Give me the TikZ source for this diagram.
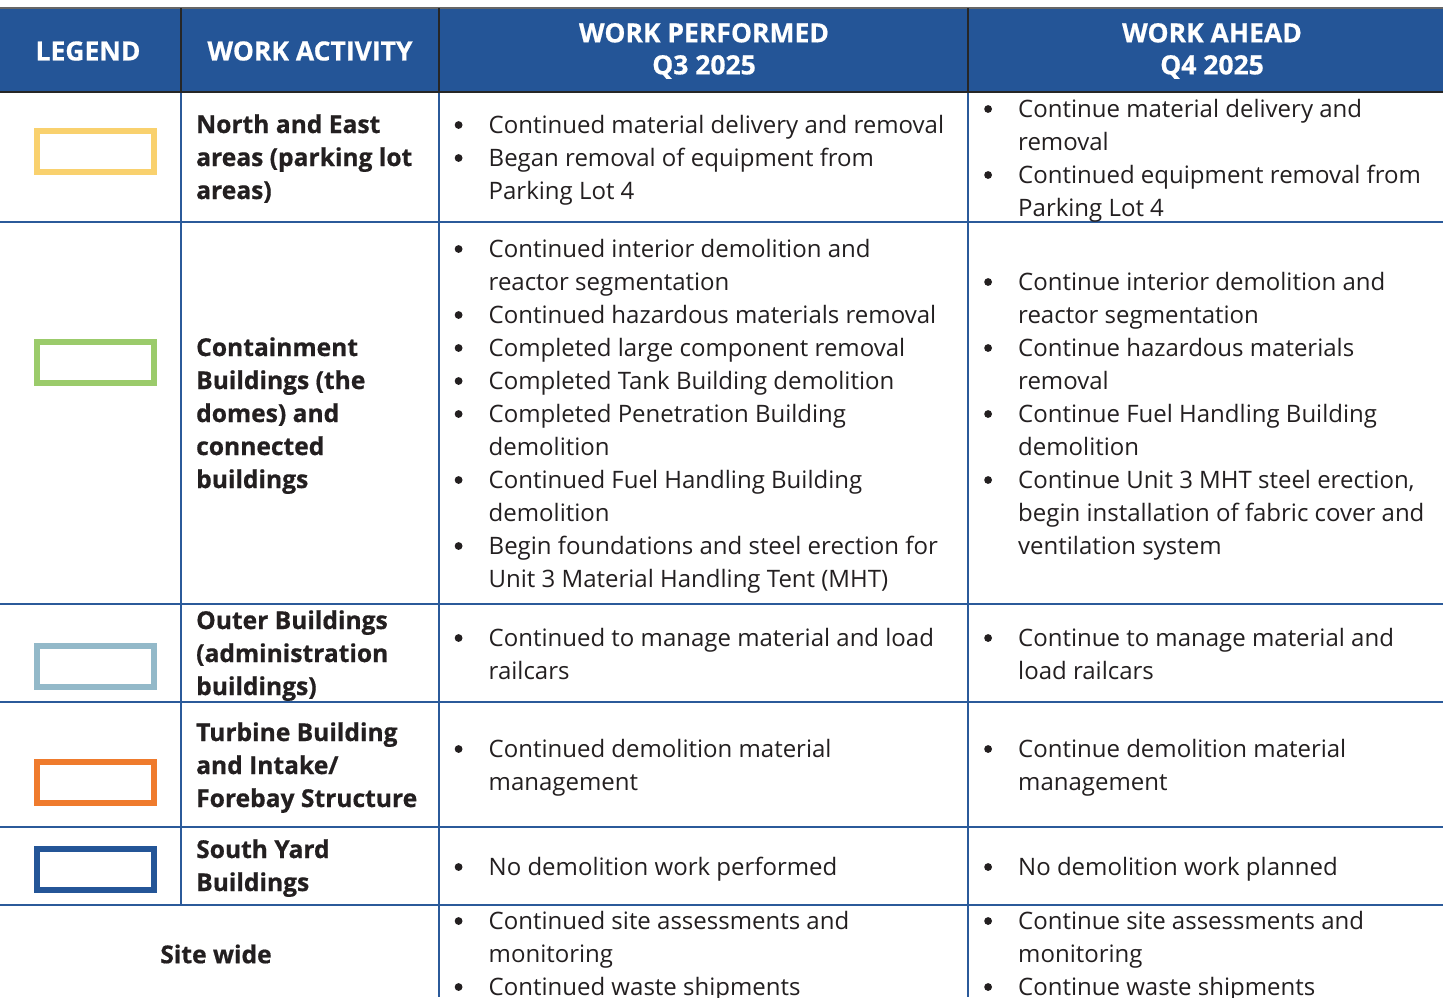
\documentclass[tikz,border=0pt]{standalone}
\usepackage{fontspec}
\setmainfont{Open Sans}[BoldFeatures={FakeBold=0.6}]
\definecolor{hdrblue}{HTML}{245597}
\definecolor{lineblue}{HTML}{2B5A9A}
\definecolor{txt}{HTML}{231F20}
\definecolor{cyellow}{HTML}{F9D16E}
\definecolor{cgreen}{HTML}{9BCB6B}
\definecolor{clblue}{HTML}{93B9C9}
\definecolor{corange}{HTML}{EF7B2D}
\definecolor{cblue}{HTML}{245597}
\newenvironment{blist}{\begin{tabular}[t]{@{}p{34pt}@{}l@{}}}{\end{tabular}}
\newenvironment{alist}{\begin{tabular}[t]{@{}l@{}}}{\end{tabular}}
\newcommand{\bu}{\tikz[baseline=0pt]\fill[txt] (4.5pt,8pt) circle (3.9pt);}
\tikzset{
  hdr/.style={text=white, font=\fontsize{26.5}{32}\selectfont\bfseries, align=center, inner sep=0pt},
  act/.style={text=txt, font=\fontsize{24.6}{33}\selectfont\bfseries, inner sep=0pt, anchor=base west},
  cell/.style={text=txt, font=\fontsize{24}{33}\selectfont, inner sep=0pt, anchor=base west},
  legbox/.style={line width=6pt, minimum width=117pt, minimum height=41pt, inner sep=0pt, fill=white},
  rowline/.style={lineblue, line width=2.5pt},
  hdrline/.style={black!85, line width=2.5pt}
}
\begin{document}
\begin{tikzpicture}[x=1pt,y=-1pt]
\useasboundingbox (0,0) rectangle (1443,997);
\fill[white] (0,0) rectangle (1443,997);
% header
\fill[hdrblue] (0,8) rectangle (1443,92);
\draw[black!60, line width=1.2pt] (0,8) -- (1443,8);
\draw[black!85, line width=2pt] (0,92) -- (1443,92);
\coordinate (h1t) at (181,8); \coordinate (h1b) at (181,92);
\coordinate (h2t) at (439,8); \coordinate (h2b) at (439,92);
\coordinate (h3t) at (968,8); \coordinate (h3b) at (968,92);
\draw[hdrline] (h1t) -- (h1b);
\draw[hdrline] (h2t) -- (h2b);
\draw[hdrline] (h3t) -- (h3b);
\node[hdr] (hlegend) at (88,51) {LEGEND};
\node[hdr] (hact) at (310,51) {WORK ACTIVITY};
\node[hdr] (hperf) at (704,51) {WORK PERFORMED\\Q3 2025};
\node[hdr] (hahead) at (1212,51) {WORK AHEAD\\Q4 2025};
% grid lines
\coordinate (r1l) at (0,222); \coordinate (r1r) at (1443,222);
\coordinate (r2l) at (0,604); \coordinate (r2r) at (1443,604);
\coordinate (r3l) at (0,702); \coordinate (r3r) at (1443,702);
\coordinate (r4l) at (0,827); \coordinate (r4r) at (1443,827);
\coordinate (r5l) at (0,905); \coordinate (r5r) at (1443,905);
\draw[rowline] (r1l) -- (r1r);
\draw[rowline] (r2l) -- (r2r);
\draw[rowline] (r3l) -- (r3r);
\draw[rowline] (r4l) -- (r4r);
\draw[rowline] (r5l) -- (r5r);
\coordinate (v1t) at (181,93); \coordinate (v1b) at (181,905);
\coordinate (v2t) at (439,93); \coordinate (v2b) at (439,997);
\coordinate (v3t) at (968,93); \coordinate (v3b) at (968,997);
\draw[rowline] (v1t) -- (v1b);
\draw[rowline] (v2t) -- (v2b);
\draw[rowline] (v3t) -- (v3b);
% legend boxes
\node[legbox, draw=cyellow] (lg1) at (95.5,151) {};
\node[legbox, draw=cgreen] (lg2) at (95.5,362.5) {};
\node[legbox, draw=clblue] (lg3) at (95.5,666) {};
\node[legbox, draw=corange] (lg4) at (95.5,782.5) {};
\node[legbox, draw=cblue] (lg5) at (95.5,869) {};
% work activity
\node[act] (a1) at (196,133) {\begin{alist}North and East\\areas (parking lot\\areas)\end{alist}};
\node[act] (a2) at (196,356) {\begin{alist}Containment\\Buildings (the\\domes) and\\connected\\buildings\end{alist}};
\node[act] (a3) at (196,629) {\begin{alist}Outer Buildings\\(administration\\buildings)\end{alist}};
\node[act] (a4) at (196,741) {\begin{alist}Turbine Building\\and Intake/\\Forebay Structure\end{alist}};
\node[act] (a5) at (196,858) {\begin{alist}South Yard\\Buildings\end{alist}};
\node[act, anchor=center] (a6) at (216,954) {Site wide};
% work performed
\node[cell] (p1) at (454.5,133) {\begin{blist}
\bu & Continued material delivery and removal\\
\bu & Began removal of equipment from\\
 & Parking Lot 4
\end{blist}};
\node[cell] (p2) at (454.5,257) {\begin{blist}
\bu & Continued interior demolition and\\
 & reactor segmentation\\
\bu & Continued hazardous materials removal\\
\bu & Completed large component removal\\
\bu & Completed Tank Building demolition\\
\bu & Completed Penetration Building\\
 & demolition\\
\bu & Continued Fuel Handling Building\\
 & demolition\\
\bu & Begin foundations and steel erection for\\
 & Unit 3 Material Handling Tent (MHT)
\end{blist}};
\node[cell] (p3) at (454.5,646) {\begin{blist}
\bu & Continued to manage material and load\\
 & railcars
\end{blist}};
\node[cell] (p4) at (454.5,757) {\begin{blist}
\bu & Continued demolition material\\
 & management
\end{blist}};
\node[cell] (p5) at (454.5,875) {\begin{blist}
\bu & No demolition work performed
\end{blist}};
\node[cell] (p6) at (454.5,929) {\begin{blist}
\bu & Continued site assessments and\\
 & monitoring\\
\bu & Continued waste shipments
\end{blist}};
% work ahead
\node[cell] (w1) at (984,117) {\begin{blist}
\bu & Continue material delivery and\\
 & removal\\
\bu & Continued equipment removal from\\
 & Parking Lot 4
\end{blist}};
\node[cell] (w2) at (984,290) {\begin{blist}
\bu & Continue interior demolition and\\
 & reactor segmentation\\
\bu & Continue hazardous materials\\
 & removal\\
\bu & Continue Fuel Handling Building\\
 & demolition\\
\bu & Continue Unit 3 MHT steel erection,\\
 & begin installation of fabric cover and\\
 & ventilation system
\end{blist}};
\node[cell] (w3) at (984,646) {\begin{blist}
\bu & Continue to manage material and\\
 & load railcars
\end{blist}};
\node[cell] (w4) at (984,757) {\begin{blist}
\bu & Continue demolition material\\
 & management
\end{blist}};
\node[cell] (w5) at (984,875) {\begin{blist}
\bu & No demolition work planned
\end{blist}};
\node[cell] (w6) at (984,929) {\begin{blist}
\bu & Continue site assessments and\\
 & monitoring\\
\bu & Continue waste shipments
\end{blist}};
\end{tikzpicture}
\end{document}
